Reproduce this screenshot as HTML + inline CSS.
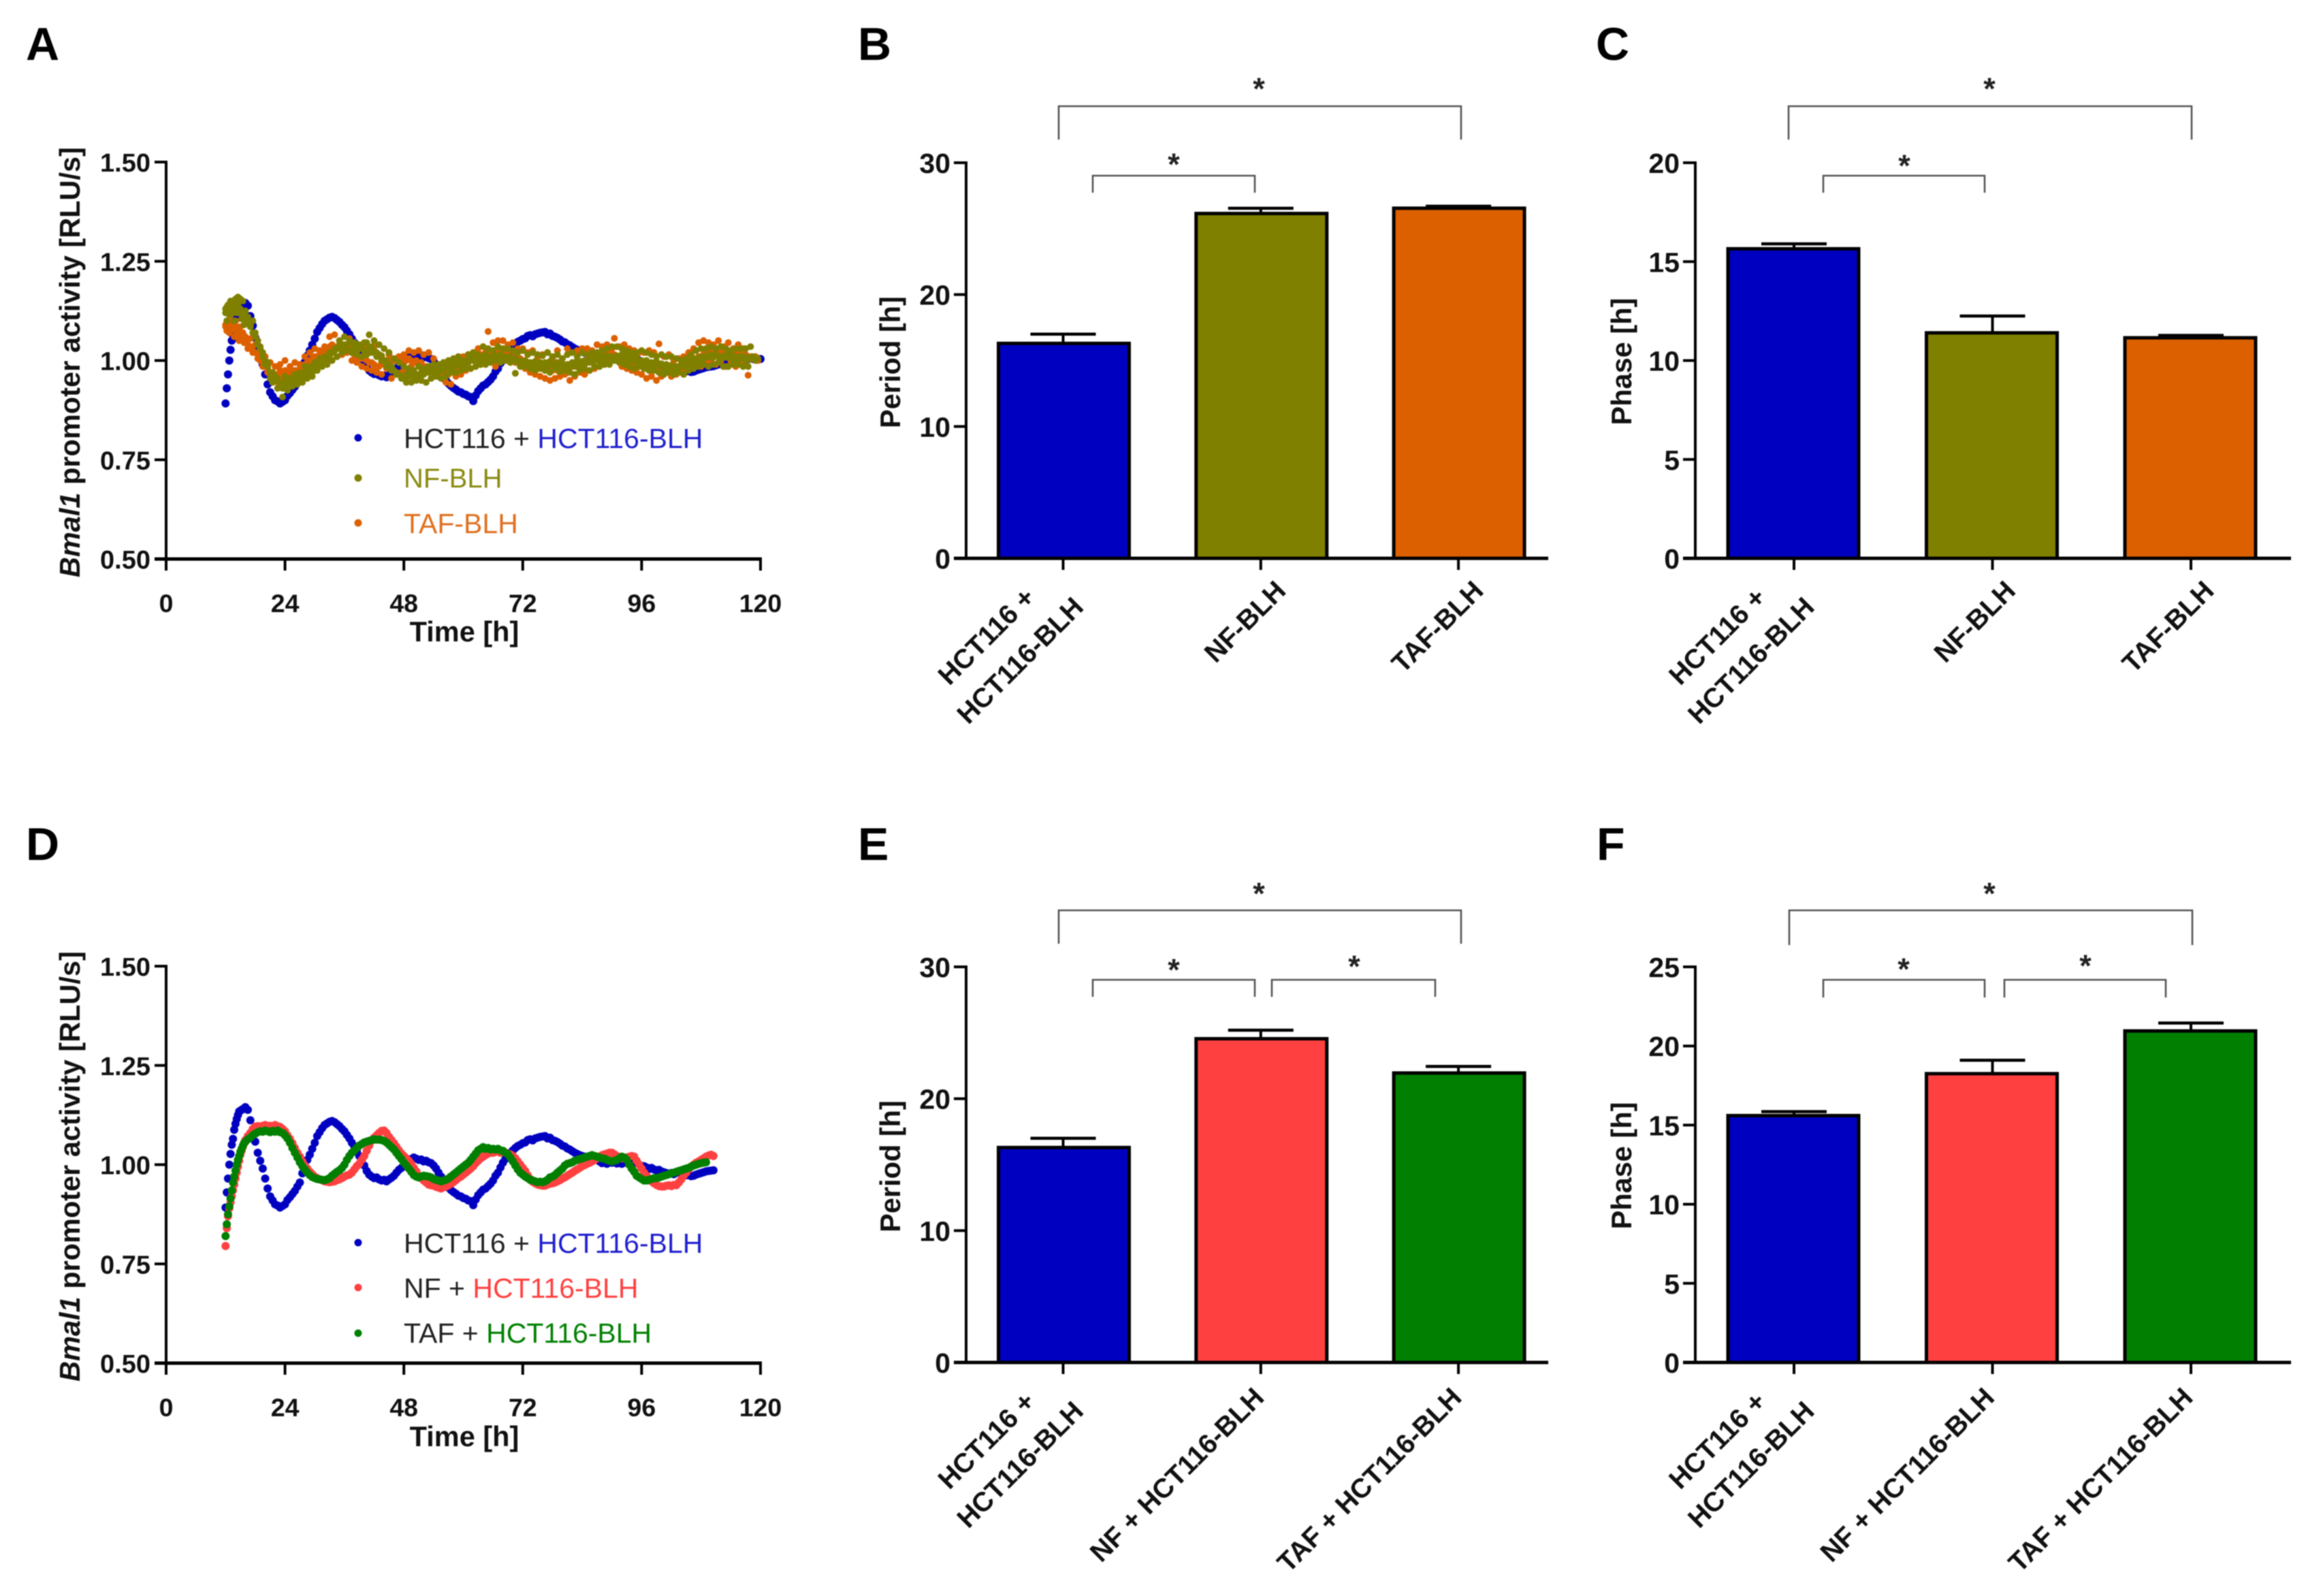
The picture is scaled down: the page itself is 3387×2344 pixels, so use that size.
<!DOCTYPE html>
<html lang="en">
<head>
<meta charset="utf-8">
<title>Bmal1 promoter activity, period and phase</title>
<style>
html,body{margin:0;padding:0;background:#fff}
svg{display:block;font-family:"Liberation Sans",Arial,sans-serif;filter:blur(0.9px)}
.letter{font-size:68px;font-weight:700;fill:#000}
.ytitle{font-size:41.5px;font-weight:700;fill:#111;text-anchor:middle}
.xtitle{font-size:41.5px;font-weight:700;fill:#111;text-anchor:middle}
.legend{font-size:41px;fill:#222}
.star{font-size:45px;font-weight:700;fill:#222;text-anchor:middle}
.bracket{fill:none;stroke:#555;stroke-width:2.6}
</style>
</head>
<body>
<svg id="figure" xmlns="http://www.w3.org/2000/svg" width="3387" height="2344" viewBox="0 0 3387 2344">
<rect width="3387" height="2344" fill="#fff"/>

<g id="panel-a">
<text class="letter" x="38" y="88">A</text>
<text class="ytitle" transform="translate(117,532) rotate(-90)"><tspan font-style="italic">Bmal1</tspan> promoter activity [RLU/s]</text>
<text class="xtitle" x="682" y="942">Time [h]</text>
<g>
<circle cx="526" cy="643" r="5.5" fill="#0000c0"/>
<text class="legend" x="593" y="658">HCT116 + <tspan fill="#1f1fcf">HCT116-BLH</tspan></text>
<circle cx="526" cy="702" r="5.5" fill="#808000"/>
<text class="legend" x="593" y="716" style="fill:#8a8a10;font-size:40px">NF-BLH</text>
<circle cx="526" cy="768" r="5.5" fill="#dc6000"/>
<text class="legend" x="593" y="783" style="fill:#e07020">TAF-BLH</text>
</g>
</g>

<g id="panel-b">
<text class="letter" x="1260" y="88">B</text>
<text class="ytitle" transform="translate(1322,532) rotate(-90)">Period [h]</text>
<path class="bracket" d="M1555 205V156H2146V205"/>
<text class="star" x="1849" y="146">*</text>
<path class="bracket" d="M1605 283V258H1843V283"/>
<text class="star" x="1724" y="257">*</text>
</g>

<g id="panel-c">
<text class="letter" x="2344" y="88">C</text>
<text class="ytitle" transform="translate(2396,531) rotate(-90)">Phase [h]</text>
<path class="bracket" d="M2627 205V156H3219V205"/>
<text class="star" x="2922" y="146">*</text>
<path class="bracket" d="M2678 283V258H2915V283"/>
<text class="star" x="2797" y="259">*</text>
</g>

<g id="panel-d">
<text class="letter" x="38" y="1263">D</text>
<text class="ytitle" transform="translate(117,1713) rotate(-90)"><tspan font-style="italic">Bmal1</tspan> promoter activity [RLU/s]</text>
<text class="xtitle" x="682" y="2124">Time [h]</text>
<g>
<circle cx="526" cy="1825" r="5.5" fill="#0000c0"/>
<text class="legend" x="593" y="1840">HCT116 + <tspan fill="#1f1fcf">HCT116-BLH</tspan></text>
<circle cx="526" cy="1891" r="5.5" fill="#ff4040"/>
<text class="legend" x="593" y="1906">NF + <tspan fill="#ff4040">HCT116-BLH</tspan></text>
<circle cx="526" cy="1958" r="5.5" fill="#007f00"/>
<text class="legend" x="593" y="1972">TAF + <tspan fill="#008000">HCT116-BLH</tspan></text>
</g>
</g>

<g id="panel-e">
<text class="letter" x="1260" y="1263">E</text>
<text class="ytitle" transform="translate(1322,1713) rotate(-90)">Period [h]</text>
<path class="bracket" d="M1555 1386V1337H2146V1386"/>
<text class="star" x="1849" y="1328">*</text>
<path class="bracket" d="M1605 1464V1439H1843V1464"/>
<text class="star" x="1724" y="1440">*</text>
<path class="bracket" d="M1868 1464V1439H2108V1464"/>
<text class="star" x="1989" y="1435">*</text>
</g>

<g id="panel-f">
<text class="letter" x="2345" y="1263">F</text>
<text class="ytitle" transform="translate(2396,1712) rotate(-90)">Phase [h]</text>
<path class="bracket" d="M2628 1388V1337H3220V1388"/>
<text class="star" x="2922" y="1328">*</text>
<path class="bracket" d="M2678 1465V1439H2915V1465"/>
<text class="star" x="2796" y="1439">*</text>
<path class="bracket" d="M2944 1465V1439H3181V1465"/>
<text class="star" x="3063" y="1434">*</text>
</g>
</svg>

<script>
// ---------- Bar chart data ----------
const periodTopMeans = [16.3, 26.15, 26.55];
const periodTopErrors = [0.7, 0.4, 0.15];
const phaseTopMeans = [15.65, 11.4, 11.15];
const phaseTopErrors = [0.25, 0.85, 0.12];
const periodBottomMeans = [16.3, 24.55, 21.95];
const periodBottomErrors = [0.7, 0.65, 0.5];
const phaseBottomMeans = [15.6, 18.25, 20.95];
const phaseBottomErrors = [0.25, 0.85, 0.5];
const categoriesTop = [["HCT116 +", "HCT116-BLH"], ["NF-BLH"], ["TAF-BLH"]];
const categoriesBottom = [["HCT116 +", "HCT116-BLH"], ["NF + HCT116-BLH"], ["TAF + HCT116-BLH"]];
const barColorsTop = ["#0000c0", "#808000", "#dc6000"];
const barColorsBottom = ["#0000c0", "#ff4040", "#007f00"];
const periodTicks = [0, 10, 20, 30];
const phaseTicksTop = [0, 5, 10, 15, 20];
const phaseTicksBottom = [0, 5, 10, 15, 20, 25];

// ---------- Time course data ----------
const timeTicks = [0, 24, 48, 72, 96, 120];
const activityTicks = ["0.50", "0.75", "1.00", "1.25", "1.50"];
const controlEndHour = 110.5;
const sampleHours = [12,12.25,12.5,12.75,13,13.25,13.5,13.75,14,14.25,14.5,14.75,15,15.25,15.5,15.75,16,
16.5,17,17.5,18,18.5,19,19.5,20,20.5,21,21.5,22,22.5,23,23.5,24,24.5,25,25.5,26,26.5,27,27.5,28,28.5,29,29.5,30,30.5,31,31.5,32,32.5,33,33.5,34,34.5,35,35.5,36,
36.5,37,37.5,38,38.5,39,39.5,40,40.5,41,41.5,42,42.5,43,43.5,44,44.5,45,45.5,46,46.5,47,47.5,48,48.5,49,49.5,50,50.5,51,51.5,52,52.5,53,53.5,54,54.5,55,55.5,56,
56.5,57,57.5,58,58.5,59,59.5,60,60.5,61,61.5,62,62.5,63,63.5,64,64.5,65,65.5,66,66.5,67,67.5,68,68.5,69,69.5,70,70.5,71,71.5,72,72.5,73,73.5,74,74.5,75,75.5,76,
76.5,77,77.5,78,78.5,79,79.5,80,80.5,81,81.5,82,82.5,83,83.5,84,84.5,85,85.5,86,86.5,87,87.5,88,88.5,89,89.5,90,90.5,91,91.5,92,92.5,93,93.5,94,94.5,95,95.5,96,
96.5,97,97.5,98,98.5,99,99.5,100,100.5,101,101.5,102,102.5,103,103.5,104,104.5,105,105.5,106,106.5,107,107.5,108,108.5,109,109.5,110,110.5,
111,111.5,112,112.5,113,113.5,114,114.5,115,115.5,116,116.5,117,117.5,118,118.5,119,119.5,120];

const hct116Activity = [.892,.93,.965,1.0,1.027,1.05,1.065,1.088,1.103,1.115,1.125,1.134,1.136,1.138,1.14,1.142,1.145,
1.138,1.112,1.088,1.058,1.03,1.01,.99,.965,.94,.92,.91,.9,.897,.892,.896,.9,.911,.918,.926,.934,.945,.955,.978,.996,1.012,1.025,1.04,1.055,1.072,1.082,1.092,1.1,1.104,1.108,1.11,1.107,1.102,1.097,1.09,1.084,
1.075,1.066,1.055,1.045,1.034,1.022,1.012,.998,.984,.975,.97,.966,.968,.963,.96,.962,.958,.963,.967,.972,.98,.987,.992,1.0,1.004,1.01,1.014,1.018,1.015,1.012,1.013,1.008,1.01,1.006,1.004,.998,.99,.98,.97,.958,
.95,.942,.936,.931,.927,.922,.92,.916,.914,.91,.908,.898,.912,.923,.93,.937,.94,.946,.952,.96,.972,.98,.993,1.005,1.014,1.024,1.03,1.036,1.042,1.047,1.05,1.054,1.056,1.062,1.064,1.061,1.066,1.068,1.07,1.071,
1.072,1.066,1.068,1.062,1.06,1.057,1.053,1.048,1.046,1.041,1.038,1.034,1.03,1.027,1.024,1.022,1.02,1.019,1.02,1.018,1.014,1.012,1.008,1.004,1.006,1.002,1.008,1.005,1.007,1.003,1.006,1.002,1.005,1.007,1.01,1.008,1.009,1.004,1.0,.997,
.996,.993,.989,.992,.988,.986,.987,.983,.981,.979,.977,.979,.976,.98,.983,.978,.975,.973,.975,.971,.972,.975,.977,.979,.981,.983,.984,.985,.986,
.988,.99,.992,.994,.996,.998,1.0,1.0,1.002,1.003,1.004,1.004,1.005,1.004,1.005,1.004,1.005,1.003,1.004];

const tafBlhActivity = [1.09,1.075,1.10,1.07,1.115,1.08,1.095,1.06,1.10,1.085,1.07,1.05,1.085,1.055,1.07,1.045,1.06,
1.03,1.055,1.02,1.04,1.005,1.025,.985,1.01,.97,.995,.95,.985,.945,.99,.955,1.0,.945,.985,.96,.995,.95,.99,.965,1.01,.97,1.02,.98,1.03,.985,1.025,.99,1.035,.995,1.06,1.0,1.065,1.01,1.05,1.015,1.04,
1.02,1.055,1.0,1.045,.995,1.03,.985,1.04,.98,1.02,.975,1.035,.97,1.015,.965,1.0,.98,1.015,.955,1.0,.965,1.01,.97,1.015,.975,1.025,.985,1.02,.995,1.025,.99,1.015,.985,1.02,.975,1.005,.97,.99,.96,.98,
.945,.985,.94,.995,.96,1.0,.965,1.01,.975,1.015,.98,1.02,.985,1.03,.99,1.035,.995,1.073,1.0,1.045,.985,1.05,1.005,1.05,1.0,1.04,1.0,1.045,.995,1.03,.985,1.03,.98,1.02,.97,1.025,.965,1.01,.96,1.015,
.955,1.02,.95,1.005,.955,1.025,.96,1.005,.965,1.03,.95,1.02,.96,1.025,.97,1.03,.965,1.03,.975,1.025,.98,1.04,.985,1.035,.99,1.04,1.0,1.03,1.056,1.0,1.035,.985,1.04,.98,1.03,.975,
1.025,.97,1.02,.965,1.02,.955,1.025,.96,1.02,.95,1.042,.96,1.01,.97,1.015,.96,1.0,.965,1.005,.97,1.01,.975,1.02,.985,1.03,.99,1.045,.985,1.05,
.995,1.045,1.0,1.04,.99,1.05,1.0,1.035,.985,1.045,1.0,1.03,.985,1.04,.99,1.03,1.0,.963,1.01];

const tafBlhReplicate = [1.085,1.09,1.08,1.095,1.09,1.085,1.10,1.08,1.075,1.065,1.08,1.06,1.07,1.06,1.055,1.05,1.045,
1.04,1.035,1.025,1.02,1.015,1.0,.995,.985,.98,.965,.955,.965,.96,.975,.97,.975,.965,.97,.965,.975,.97,.98,.985,.99,.995,1.0,1.005,1.01,1.01,1.015,1.02,1.025,1.03,1.035,1.04,1.035,1.03,1.04,1.03,
1.035,1.025,1.03,1.02,1.015,1.01,1.01,1.005,1.005,1.0,.995,.995,.99,.985,.985,.995,.99,.99,.995,1.0,1.0,1.005,1.005,1.0,1.005,1.0,1.005,1.0,.995,1.0,.99,.995,.985,.985,.975,.98,.97,.975,.96,.965,
.96,.97,.965,.975,.975,.985,.985,.995,.995,1.0,1.0,1.005,1.005,1.01,1.01,1.015,1.015,1.02,1.02,1.025,1.02,1.025,1.02,1.02,1.015,1.02,1.01,1.015,1.005,1.01,1.0,1.005,.995,1.0,.99,.995,.985,.99,.98,.985,
.98,.985,.975,.985,.975,.98,.975,.985,.975,.985,.98,.99,.985,.99,.985,.995,.99,1.0,.995,1.005,1.0,1.01,1.005,1.015,1.01,1.015,1.01,1.02,1.01,1.015,1.005,1.01,1.0,1.005,.995,1.0,.99,.995,.985,.99,
.985,.99,.98,.985,.975,.985,.975,.98,.97,.98,.975,.985,.975,.98,.975,.985,.98,.99,.985,.995,.995,1.0,1.005,1.01,1.01,1.015,1.02,1.015,1.02,
1.015,1.02,1.015,1.02,1.015,1.025,1.015,1.02,1.01,1.02,1.01,1.015,1.01,1.015,1.005,1.01,1.005,1.01,1.0];

const nfBlhActivity = [1.13,1.10,1.14,1.115,1.15,1.12,1.135,1.10,1.155,1.12,1.16,1.13,1.155,1.105,1.15,1.09,1.125,
1.11,1.085,1.10,1.06,1.05,1.03,1.02,1.0,.985,.97,.945,.96,.93,.945,.908,.96,.925,.955,.935,.965,.94,.965,.945,.985,.955,.985,.96,.995,.975,1.005,.985,1.01,.99,1.02,1.0,1.03,1.01,1.05,1.02,1.06,
1.025,1.05,1.02,1.045,1.015,1.04,1.01,1.045,1.015,1.065,1.02,1.05,1.01,1.04,1.0,1.03,.985,1.02,.975,1.005,.965,.995,.955,.985,.945,.98,.945,.975,.95,.985,.95,.98,.945,.985,.955,.99,.96,.99,.955,.995,
.96,1.0,.97,1.005,.97,1.01,.975,1.0,.98,1.015,.98,1.02,.985,1.015,.99,1.035,.99,1.03,.995,1.025,1.0,1.035,.995,1.03,1.0,1.03,.995,1.025,.968,1.02,.985,1.025,.985,1.015,.98,1.02,.975,1.015,.98,1.012,
.975,1.02,.97,1.01,.98,1.015,.972,1.005,.975,1.015,.97,1.02,.965,1.01,.975,1.02,.98,1.015,.975,1.02,.985,1.02,.985,1.025,.99,1.03,.99,1.035,1.0,1.035,.995,1.03,.99,1.025,.985,1.02,
.98,1.02,.985,1.025,.98,1.02,.975,1.015,.975,1.01,.97,1.015,.965,1.01,.97,1.01,.965,1.005,.97,1.0,.965,1.005,.975,1.015,.98,1.025,.985,1.03,.99,
1.03,.985,1.035,.99,1.03,.995,1.035,.985,1.03,.985,1.025,.99,1.03,.99,1.03,.985,1.03,.985,1.035];

const nfBlhReplicate = [1.12,1.135,1.125,1.14,1.13,1.145,1.12,1.14,1.13,1.15,1.14,1.12,1.13,1.12,1.115,1.105,1.10,
1.095,1.09,1.07,1.07,1.04,1.035,1.01,.99,.995,.955,.97,.95,.955,.945,.93,.945,.94,.95,.945,.96,.95,.97,.955,.97,.965,.975,.97,.985,.98,.995,.99,1.0,1.005,1.012,1.02,1.025,1.03,1.04,1.035,
1.04,1.03,1.045,1.025,1.035,1.025,1.03,1.03,1.025,1.045,1.03,1.035,1.025,1.02,1.015,1.012,1.0,1.0,.99,.985,.975,.97,.965,.96,.955,.965,.96,.97,.96,.965,.955,.97,.965,.975,.97,.98,.97,.975,.97,.985,
.975,.99,.98,.99,.985,.995,.99,1.0,.985,1.0,.995,1.005,1.0,1.01,1.0,1.01,1.005,1.015,1.005,1.01,1.0,1.012,1.005,1.015,1.01,1.01,1.0,1.01,1.0,1.005,.995,1.0,.99,1.0,.99,.995,.985,.998,.988,.995,
.985,.995,.985,.998,.99,.988,.995,.985,.992,.98,.99,.985,.995,.985,1.0,.99,.998,.992,1.005,.995,1.01,1.0,1.005,.998,1.01,1.003,1.012,1.005,1.01,1.0,1.012,1.005,1.015,1.005,1.01,1.0,1.01,.998,1.005,.995,
1.0,.99,1.0,.99,.995,.985,.998,.988,.992,.98,.99,.982,.988,.978,.985,.98,.99,.985,.992,.99,1.0,.995,1.005,1.0,1.01,1.005,1.012,1.008,1.015,
1.008,1.015,1.01,1.005,1.012,1.008,1.015,1.005,1.012,1.003,1.01,1.005,1.012,1.0,1.008,1.003,1.01,1.0,1.005];

const nfHctActivity = [.795,.84,.87,.89,.905,.92,.935,.95,.965,.98,.995,1.01,1.025,1.035,1.045,1.055,1.062,
1.072,1.08,1.09,1.096,1.097,1.095,1.098,1.1,1.097,1.098,1.094,1.1,1.097,1.095,1.09,1.084,1.074,1.065,1.054,1.042,1.03,1.02,1.008,.998,.99,.982,.976,.97,.966,.963,.961,.958,.957,.956,.957,.958,.961,.963,.966,.97,
.973,.975,.98,.988,.996,1.002,1.012,1.022,1.035,1.048,1.06,1.068,1.074,1.08,1.085,1.086,1.08,1.07,1.062,1.054,1.045,1.036,1.028,1.022,1.016,1.01,1.002,.992,.983,.973,.966,.96,.955,.95,.948,.947,.944,.942,.94,.943,
.945,.948,.952,.956,.961,.966,.97,.975,.98,.985,.99,.996,1.004,1.01,1.016,1.02,1.024,1.028,1.03,1.03,1.032,1.033,1.03,1.032,1.03,1.028,1.026,1.022,1.016,1.008,1.0,.992,.984,.973,.964,.957,.953,.95,.948,.947,
.947,.95,.952,.953,.955,.958,.961,.965,.968,.972,.976,.98,.984,.988,.992,.996,.999,1.002,1.005,1.008,1.012,1.016,1.02,1.024,1.026,1.028,1.03,1.03,1.026,1.022,1.018,1.016,1.016,1.018,1.02,1.022,1.02,1.01,1.0,.99,
.98,.972,.964,.958,.953,.949,.946,.945,.945,.947,.948,.946,.949,.948,.955,.963,.972,.98,.988,.995,1.0,1.005,1.008,1.012,1.016,1.02,1.023,1.025,1.022];

const tafHctActivity = [.82,.85,.875,.895,.915,.935,.955,.97,.985,1.0,1.012,1.022,1.032,1.04,1.048,1.054,1.058,
1.064,1.068,1.074,1.078,1.082,1.084,1.083,1.086,1.084,1.082,1.085,1.083,1.086,1.082,1.08,1.074,1.066,1.055,1.042,1.03,1.018,1.006,.996,.988,.98,.974,.969,.966,.964,.963,.962,.961,.963,.966,.972,.977,.982,.986,.992,1.0,
1.012,1.022,1.03,1.036,1.042,1.048,1.052,1.056,1.058,1.06,1.062,1.064,1.063,1.063,1.062,1.06,1.056,1.05,1.044,1.038,1.03,1.022,1.014,1.005,.998,.99,.982,.974,.97,.968,.97,.972,.971,.97,.968,.964,.962,.96,.958,.96,
.962,.965,.97,.975,.98,.985,.99,.995,1.0,1.005,1.012,1.02,1.028,1.036,1.04,1.044,1.04,1.042,1.038,1.04,1.038,1.04,1.036,1.035,1.03,1.026,1.018,1.008,.998,.988,.98,.975,.97,.966,.962,.96,.958,.956,.957,.956,
.958,.962,.968,.97,.974,.98,.985,.99,.998,1.002,1.004,1.006,1.01,1.012,1.014,1.016,1.018,1.02,1.022,1.024,1.022,1.02,1.018,1.016,1.015,1.012,1.01,1.008,1.01,1.012,1.016,1.02,1.018,1.012,1.0,.99,.982,
.972,.968,.964,.96,.96,.962,.964,.966,.966,.968,.97,.972,.974,.976,.978,.98,.982,.984,.986,.988,.99,.992,.995,.998,1.0,1.002,1.004,1.005,1.006];

// ---------- Drawing ----------
const SVG_NS = 'http://www.w3.org/2000/svg';
function svgNode(tag, parent) {
  const node = document.createElementNS(SVG_NS, tag);
  parent.appendChild(node);
  return node;
}
function axisLine(parent, x1, y1, x2, y2, width) {
  const line = svgNode('line', parent);
  line.setAttribute('x1', x1);
  line.setAttribute('y1', y1);
  line.setAttribute('x2', x2);
  line.setAttribute('y2', y2);
  line.setAttribute('stroke', '#000');
  line.setAttribute('stroke-width', width);
  
  
}
function tickLabel(parent, x, y, size, anchor, content) {
  const label = svgNode('text', parent);
  label.setAttribute('x', x);
  label.setAttribute('y', y);
  label.setAttribute('font-size', size);
  label.setAttribute('font-weight', '700');
  label.setAttribute('fill', '#111');
  label.setAttribute('text-anchor', anchor);
  label.textContent = content;
  
  
}

function drawTimeCourse(panelId, plotTop, plotBottom, seriesList) {
  const panel = document.getElementById(panelId);
  const plotLeft = 244, plotRight = 1117;
  const xOf = hour => plotLeft + hour / 120 * (plotRight - plotLeft);
  const yOf = value => plotBottom - (value - 0.5) / 1.0 * (plotBottom - plotTop);

  seriesList.forEach(series => {
    const group = svgNode('g', panel);
    group.setAttribute('fill', series.color);
    
    
    series.values.forEach((value, i) => {
      if (sampleHours[i] > series.endHour) return;
      const dot = svgNode('circle', group);
      dot.setAttribute('cx', xOf(sampleHours[i]).toFixed(1));
      dot.setAttribute('cy', yOf(value).toFixed(1));
      dot.setAttribute('r', series.radius);
      
      
    });
  });

  axisLine(panel, plotLeft, plotTop - 2, plotLeft, plotBottom, 4);
  axisLine(panel, plotLeft - 17, plotBottom, plotRight + 2, plotBottom, 5);
  activityTicks.forEach(tick => {
    const y = yOf(parseFloat(tick));
    axisLine(panel, plotLeft - 17, y, plotLeft, y, 4);
    tickLabel(panel, plotLeft - 23, y + 14, 38, 'end', tick);
  });
  timeTicks.forEach(tick => {
    const x = xOf(tick);
    axisLine(panel, x, plotBottom, x, plotBottom + 17, 4);
    tickLabel(panel, x, plotBottom + 78, 37.5, 'middle', String(tick));
  });
}

function drawBars(panelId, cfg) {
  const panel = document.getElementById(panelId);
  const xOf = i => cfg.firstCenter + i * cfg.spacing;
  const yOf = value => cfg.bottom - value / cfg.maxValue * (cfg.bottom - cfg.top);

  cfg.means.forEach((mean, i) => {
    const cx = xOf(i);
    const errTop = yOf(mean + cfg.errors[i]);
    const stem = svgNode('line', panel);
    stem.setAttribute('x1', cx);
    stem.setAttribute('x2', cx);
    stem.setAttribute('y1', yOf(mean));
    stem.setAttribute('y2', errTop);
    stem.setAttribute('stroke', '#000');
    stem.setAttribute('stroke-width', 4);
    
    
    const cap = svgNode('line', panel);
    cap.setAttribute('x1', cx - 48);
    cap.setAttribute('x2', cx + 48);
    cap.setAttribute('y1', errTop);
    cap.setAttribute('y2', errTop);
    cap.setAttribute('stroke', '#000');
    cap.setAttribute('stroke-width', 4.5);
    
    
    const bar = svgNode('rect', panel);
    bar.setAttribute('x', cx - 95 + cfg.barShift);
    bar.setAttribute('y', yOf(mean));
    bar.setAttribute('width', 192);
    bar.setAttribute('height', cfg.bottom - yOf(mean));
    bar.setAttribute('fill', cfg.colors[i]);
    bar.setAttribute('stroke', '#000');
    bar.setAttribute('stroke-width', 5);
    
    
  });

  axisLine(panel, cfg.axisX, cfg.top - 2, cfg.axisX, cfg.bottom, 4);
  axisLine(panel, cfg.axisX - 18, cfg.bottom, cfg.axisEnd, cfg.bottom, 5);
  cfg.ticks.forEach(tick => {
    const y = yOf(tick);
    axisLine(panel, cfg.axisX - 18, y, cfg.axisX, y, 4);
    tickLabel(panel, cfg.axisX - 23, y + 15, 41, 'end', String(tick));
  });

  cfg.categories.forEach((lines, i) => {
    const cx = xOf(i);
    axisLine(panel, cx, cfg.bottom, cx, cfg.bottom + 17, 4);
    lines.forEach((line, k) => {
      let dx = cfg.singleDx, dy = cfg.singleDy;
      if (lines.length === 2) {
        dx = k === 0 ? -39 : 32;
        dy = k === 0 ? 60 : 74;
      }
      const label = svgNode('text', panel);
      label.setAttribute('transform', 'translate(' + (cx + dx) + ',' + (cfg.bottom + dy) + ') rotate(-45)');
      label.setAttribute('font-size', 40);
      label.setAttribute('font-weight', '700');
      label.setAttribute('fill', '#111');
      label.setAttribute('text-anchor', 'end');
      label.textContent = line;
      
      
    });
  });
}

drawTimeCourse('panel-a', 238, 821, [
  {name: 'series-hct116-blh', color: '#0000c0', radius: 6, endHour: 120, values: hct116Activity},
  {name: 'series-taf-blh', color: '#dc6000', radius: 5, endHour: 120, values: tafBlhActivity},
  {name: 'series-taf-blh-replicate', color: '#dc6000', radius: 5, endHour: 120, values: tafBlhReplicate},
  {name: 'series-nf-blh', color: '#808000', radius: 5, endHour: 120, values: nfBlhActivity},
  {name: 'series-nf-blh-replicate', color: '#808000', radius: 5, endHour: 120, values: nfBlhReplicate}
]);
drawTimeCourse('panel-d', 1419, 2002, [
  {name: 'series-hct116-blh', color: '#0000c0', radius: 6, endHour: controlEndHour, values: hct116Activity},
  {name: 'series-nf-hct116-blh', color: '#ff4040', radius: 6, endHour: controlEndHour, values: nfHctActivity},
  {name: 'series-taf-hct116-blh', color: '#007f00', radius: 6, endHour: controlEndHour, values: tafHctActivity}
]);

drawBars('panel-b', {top: 239, bottom: 820, maxValue: 30, axisX: 1419, axisEnd: 2274, firstCenter: 1561.5, spacing: 290.3, barShift: 0, means: periodTopMeans, errors: periodTopErrors, colors: barColorsTop, ticks: periodTicks, categories: categoriesTop, singleDx: 39, singleDy: 50});
drawBars('panel-c', {top: 239, bottom: 820, maxValue: 20, axisX: 2490, axisEnd: 3365, firstCenter: 2635, spacing: 291.5, barShift: -2, means: phaseTopMeans, errors: phaseTopErrors, colors: barColorsTop, ticks: phaseTicksTop, categories: categoriesTop, singleDx: 36, singleDy: 50});
drawBars('panel-e', {top: 1420, bottom: 2001, maxValue: 30, axisX: 1419, axisEnd: 2274, firstCenter: 1561.5, spacing: 290.3, barShift: 0, means: periodBottomMeans, errors: periodBottomErrors, colors: barColorsBottom, ticks: periodTicks, categories: categoriesBottom, singleDx: 7, singleDy: 54});
drawBars('panel-f', {top: 1420, bottom: 2001, maxValue: 25, axisX: 2490, axisEnd: 3365, firstCenter: 2635, spacing: 291.5, barShift: -2, means: phaseBottomMeans, errors: phaseBottomErrors, colors: barColorsBottom, ticks: phaseTicksBottom, categories: categoriesBottom, singleDx: 5, singleDy: 54});
</script>
</body>
</html>
